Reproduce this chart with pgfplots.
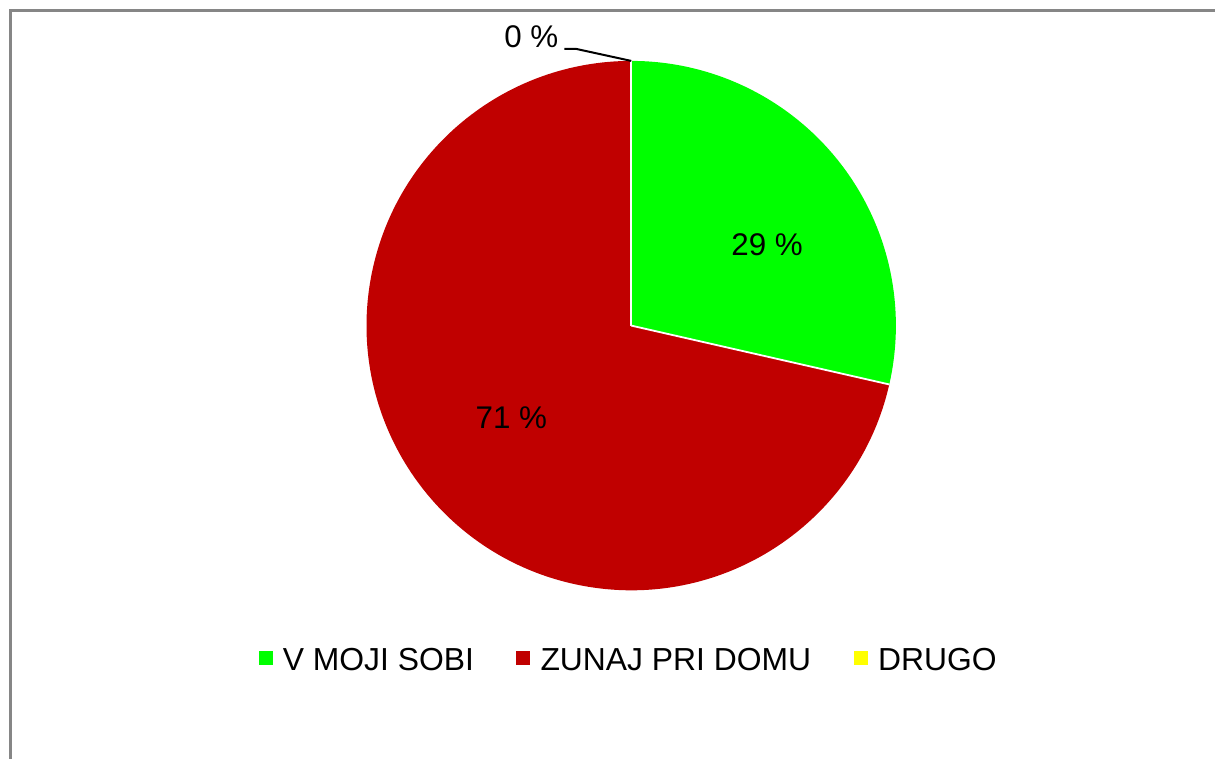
\documentclass[border=0pt]{standalone}
\usepackage{pgfplots}
\pgfplotsset{compat=1.18}
\usepackage{fontspec}
\setmainfont{Liberation Sans}
\definecolor{cgreen}{HTML}{00FF00}
\definecolor{cred}{HTML}{C00000}
\definecolor{cyellow}{HTML}{FFFF00}
\definecolor{cframe}{HTML}{868686}
% values (percent): V MOJI SOBI, ZUNAJ PRI DOMU, DRUGO
\def\vA{28.57}
\def\vB{71.43}
\def\vC{0}
\pgfmathsetmacro{\angA}{90-3.6*\vA}
\pgfmathsetmacro{\angB}{\angA-3.6*\vB}
\begin{document}
\begin{tikzpicture}
\begin{axis}[width=1216bp,height=760bp,scale only axis,
  xmin=0,xmax=1216,ymin=0,ymax=760,hide axis,clip=false]
\path (axis cs:0,0) rectangle (axis cs:1216,760);
% frame
\draw[cframe,line width=3bp] (axis cs:1216,749.5) -- (axis cs:10.5,749.5) -- (axis cs:10.5,0);
% pie: centre (632,434), r=265
\fill[cgreen] (axis cs:632,434) -- ++(90:265bp) arc[start angle=90,end angle=\angA,radius=265bp] -- cycle;
\fill[cred] (axis cs:632,434) -- ++(\angA:265bp) arc[start angle=\angA,end angle=\angB,radius=265bp] -- cycle;
\draw[white,line width=1.8bp] (axis cs:632,434) -- ++(90:265bp);
\draw[white,line width=1.8bp] (axis cs:632,434) -- ++(\angA:265bp);
% labels
\node[anchor=base,font=\fontsize{31.5}{36}\selectfont,inner sep=0pt] at (axis cs:768,504) {29 \%};
\node[anchor=base,font=\fontsize{31.5}{36}\selectfont,inner sep=0pt] at (axis cs:512,331) {71 \%};
\node[anchor=base,font=\fontsize{31.5}{36}\selectfont,inner sep=0pt] at (axis cs:532,712) {0 \%};
\draw[black,line width=2bp] (axis cs:565,711) -- (axis cs:577,711) -- (axis cs:632,699);
% legend
\fill[cgreen] (axis cs:259,94) rectangle (axis cs:273,108);
\node[anchor=base west,font=\fontsize{32}{36}\selectfont,inner sep=0pt] at (axis cs:283,89) {V MOJI SOBI};
\fill[cred] (axis cs:517,94) rectangle (axis cs:531,108);
\node[anchor=base west,font=\fontsize{32}{36}\selectfont,inner sep=0pt] at (axis cs:541,89) {ZUNAJ PRI DOMU};
\fill[cyellow] (axis cs:855,94) rectangle (axis cs:869,108);
\node[anchor=base west,font=\fontsize{32}{36}\selectfont,inner sep=0pt] at (axis cs:879,89) {DRUGO};
\end{axis}
\end{tikzpicture}
\end{document}
